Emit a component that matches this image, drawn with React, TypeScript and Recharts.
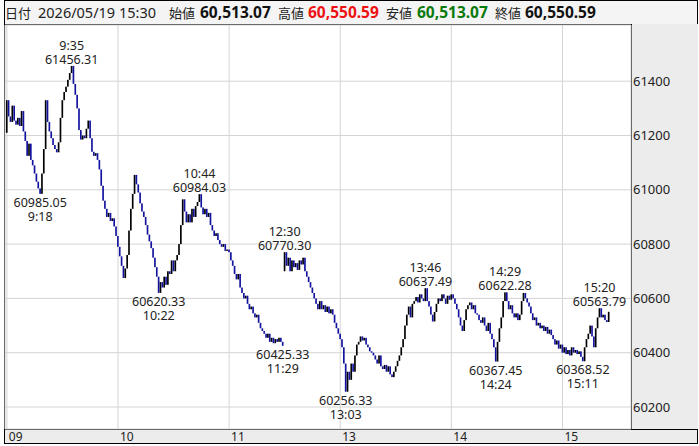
import React from "react";
import {
  ComposedChart,
  Bar,
  Scatter,
  XAxis,
  YAxis,
  CartesianGrid,
} from "recharts";

// 1-minute closes, 09:00 - 11:29
const AM_CLOSE = [
  61330, 61270, 61250, 61310, 61255, 61240, 61265, 61235, 61290, 61215,
  61180, 61125, 61170, 61110, 61090, 61060, 61030, 61005, 60985.05, 61060,
  61150, 61330, 61250, 61215, 61190, 61165, 61150, 61138, 61175, 61265,
  61330, 61360, 61380, 61405, 61430, 61456.31, 61390, 61350, 61300, 61220,
  61185, 61200, 61190, 61225, 61255, 61190, 61140, 61125, 61135, 61110,
  61075, 61015, 60960, 60930, 60900, 60915, 60885, 60895, 60865, 60830,
  60790, 60755, 60720, 60675, 60710, 60760, 60850, 60930, 60985, 61055,
  61020, 60990, 60950, 60920, 60900, 60870, 60835, 60810, 60785, 60750,
  60715, 60680, 60620.33, 60660, 60640, 60680, 60650, 60700, 60690, 60740,
  60700, 60740, 60760, 60800, 60870, 60965, 60920, 60880, 60910, 60880,
  60930, 60900, 60940, 60955, 60984.03, 60935, 60910, 60930, 60900, 60915,
  60870, 60850, 60830, 60840, 60815, 60800, 60790, 60800, 60775, 60780,
  60770, 60740, 60720, 60690, 60670, 60690, 60640, 60620, 60600, 60610,
  60580, 60560, 60570, 60545, 60530, 60540, 60510, 60490, 60480, 60470,
  60455, 60470, 60440, 60455, 60435, 60450, 60440, 60455, 60440, 60425.33,
];

// 1-minute closes, 12:30 - 15:24, then the 15:30 close
const PM_CLOSE = [
  60770.3, 60720, 60750, 60700, 60740, 60715, 60730, 60705, 60740, 60725,
  60750, 60700, 60680, 60660, 60640, 60620, 60600, 60580, 60560, 60590,
  60560, 60575, 60550, 60570, 60545, 60560, 60540, 60510, 60490, 60470,
  60450, 60420, 60360, 60256.33, 60330, 60300, 60360, 60330, 60390, 60430,
  60440, 60460, 60445, 60455, 60430, 60420, 60405, 60400, 60390, 60375,
  60360, 60390, 60350, 60340, 60355, 60330, 60350, 60320, 60310, 60330,
  60350, 60370, 60390, 60420, 60450, 60500, 60540, 60570, 60530, 60580,
  60590, 60605, 60585, 60615, 60600, 60590, 60637.49, 60590, 60570, 60540,
  60515, 60550, 60580, 60600, 60590, 60615, 60600, 60580, 60610, 60595,
  60615, 60600, 60580, 60560, 60530, 60500, 60480, 60520, 60560, 60575,
  60585, 60560, 60575, 60545, 60540, 60520, 60510, 60530, 60500, 60480,
  60510, 60470, 60450, 60420, 60367.45, 60440, 60490, 60530, 60590, 60622.28,
  60590, 60560, 60575, 60545, 60530, 60545, 60520, 60540, 60590, 60620,
  60600, 60585, 60570, 60545, 60520, 60530, 60500, 60510, 60490, 60500,
  60480, 60495, 60470, 60485, 60465, 60450, 60430, 60445, 60415, 60430,
  60400, 60420, 60395, 60410, 60390, 60420, 60400, 60410, 60395, 60405,
  60385, 60368.52, 60420, 60450, 60470, 60500, 60460, 60420, 60490, 60530,
  60563.79, 60530, 60540, 60520, 60513.07, 60550.59,
];

const AM_OPEN = 61210;
const PM_OPEN = 60700;

const HOUR_TICKS = [0, 60, 120, 180, 240, 300];
const HOUR_LABELS = ["09", "10", "11", "13", "14", "15"];
const PRICE_TICKS = [60200, 60400, 60600, 60800, 61000, 61200, 61400];

// peak / trough annotations: candle index, value, time, side
const MARK_IDX = [35, 104, 150, 226, 269, 320, 18, 82, 149, 183, 264, 311];
const MARK_VAL = [
  61456.31, 60984.03, 60770.3, 60637.49, 60622.28, 60563.79,
  60985.05, 60620.33, 60425.33, 60256.33, 60367.45, 60368.52,
];
const MARK_TIME = [
  "9:35", "10:44", "12:30", "13:46", "14:29", "15:20",
  "9:18", "10:22", "11:29", "13:03", "14:24", "15:11",
];
const MARK_HIGH = [true, true, true, true, true, true, false, false, false, false, false, false];

const UP = "#000000";
const DOWN = "#12129e";
const FONT = "'Noto Sans', sans-serif";

const closes = [...AM_CLOSE, ...PM_CLOSE];
const candles = closes.map((c, i) => {
  const o = i === 0 ? AM_OPEN : i === AM_CLOSE.length ? PM_OPEN : closes[i - 1];
  return { i, o, c, range: [Math.min(o, c), Math.max(o, c)], up: c >= o };
});
const marks = MARK_IDX.map((i, k) => ({
  i,
  v: MARK_VAL[k],
  t: MARK_TIME[k],
  high: MARK_HIGH[k],
}));

const Candle = (p: any) => {
  const top = Math.min(p.y, p.y + p.height);
  const h = Math.max(Math.abs(p.height), 1);
  return <rect x={p.x} y={top} width={p.width} height={h} fill={p.payload.up ? UP : DOWN} />;
};

const Mark = (p: any) => {
  const { cx, cy, payload } = p;
  const lab = payload.v.toFixed(2);
  const style = { fontFamily: FONT, fontSize: 12.5, fill: "#222" };
  return payload.high ? (
    <g>
      <text x={cx} y={cy - 16} textAnchor="middle" style={style}>{payload.t}</text>
      <text x={cx} y={cy - 2} textAnchor="middle" style={style}>{lab}</text>
    </g>
  ) : (
    <g>
      <text x={cx} y={cy + 13} textAnchor="middle" style={style}>{lab}</text>
      <text x={cx} y={cy + 27} textAnchor="middle" style={style}>{payload.t}</text>
    </g>
  );
};

const XTick = (p: any) => {
  const k = HOUR_TICKS.indexOf(p.payload.value);
  return (
    <text x={p.x + 2} y={441} textAnchor="start" style={{ fontFamily: FONT, fontSize: 12, fill: "#222" }}>
      {HOUR_LABELS[k]}
    </text>
  );
};

const YTick = (p: any) => (
  <text x={633} y={p.y} dy="0.35em" textAnchor="start" style={{ fontFamily: FONT, fontSize: 13, fill: "#222" }}>
    {p.payload.value}
  </text>
);

const hdr = (left: number, text: string, extra: any = {}) => (
  <span style={{ position: "absolute", left, top: 2, lineHeight: "21px", whiteSpace: "nowrap", ...extra }}>{text}</span>
);
const label = { fontSize: 13, fontFamily: "'Noto Sans CJK JP', sans-serif" };
const value = { fontSize: 15.5, fontWeight: 700, fontFamily: "'Noto Sans', sans-serif" };

export default function App() {
  return (
    <div
      style={{
        position: "absolute",
        left: 0,
        top: 0,
        width: 699,
        height: 446,
        background: "#fff",
        fontFamily: "'Noto Sans CJK JP', sans-serif",
        color: "#222",
      }}
    >
      {/* header strip */}
      <div style={{ position: "absolute", left: 4, top: 0, width: 694, height: 25, background: "#f4f4f4", border: "1px solid #000", boxSizing: "border-box" }} />
      {hdr(5, "日付", label)}
      {hdr(38, "2026/05/19 15:30", { fontSize: 14.5, fontFamily: "'Noto Sans', sans-serif" })}
      {hdr(169, "始値", label)}
      {hdr(200, "60,513.07", { ...value, color: "#111" })}
      {hdr(278, "高値", label)}
      {hdr(308, "60,550.59", { ...value, color: "#ee1111" })}
      {hdr(386, "安値", label)}
      {hdr(417, "60,513.07", { ...value, color: "#0a7a0a" })}
      {hdr(495, "終値", label)}
      {hdr(525, "60,550.59", { ...value, color: "#111" })}

      {/* frame, price panel and time strip */}
      <div style={{ position: "absolute", left: 4, top: 24, width: 694, height: 420, border: "1px solid #000", boxSizing: "border-box" }} />
      <div style={{ position: "absolute", left: 631, top: 24, width: 67, height: 406, background: "#ececec", borderLeft: "1px solid #000", boxSizing: "border-box" }} />
      <div style={{ position: "absolute", left: 4, top: 429, width: 694, height: 15, background: "#ececec", border: "1px solid #000", boxSizing: "border-box" }} />

      <div style={{ position: "absolute", left: 0, top: 0 }}>
        <ComposedChart
          width={699}
          height={446}
          data={candles}
          margin={{ top: 25, right: 2, bottom: 3, left: 5 }}
        >
          <CartesianGrid stroke="#d4d4d4" />
          <XAxis
            dataKey="i"
            type="number"
            domain={[-1, 337]}
            ticks={HOUR_TICKS}
            allowDataOverflow
            height={14}
            tickLine={false}
            axisLine={false}
            tick={<XTick />}
          />
          <YAxis
            orientation="right"
            type="number"
            domain={[60119, 61607]}
            ticks={PRICE_TICKS}
            allowDataOverflow
            width={66}
            tickLine={false}
            axisLine={false}
            tick={<YTick />}
          />
          <Bar dataKey="range" barSize={2} shape={<Candle />} isAnimationActive={false} />
          <Scatter data={marks} dataKey="v" shape={<Mark />} isAnimationActive={false} />
        </ComposedChart>
      </div>
    </div>
  );
}
